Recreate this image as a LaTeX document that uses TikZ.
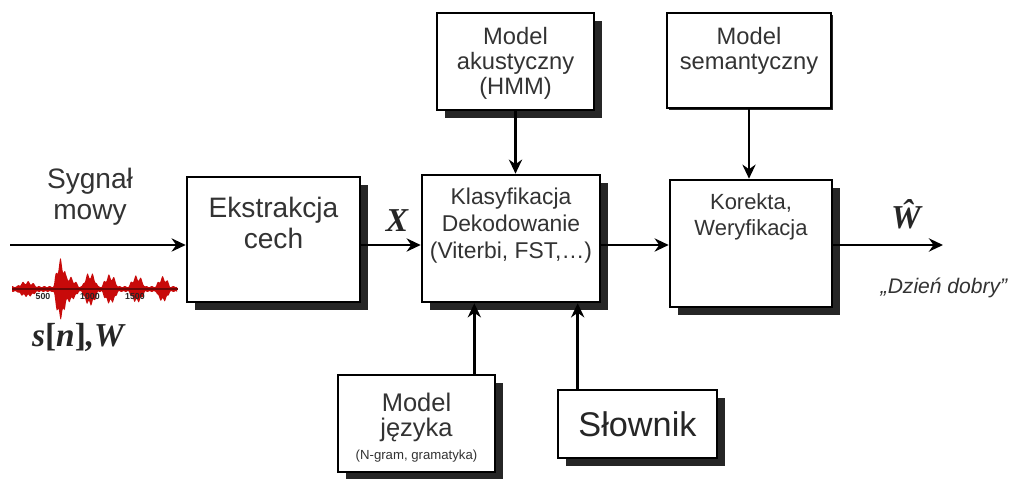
\documentclass[tikz,border=0pt]{standalone}
\usepackage{fontspec}
\setmainfont{Liberation Sans}
\newfontfamily\tms{Liberation Serif}
\usetikzlibrary{arrows.meta, shadows, positioning}
\definecolor{wavered}{RGB}{200,10,10}
\tikzstyle{block} = [rectangle, draw=black, line width=1.5pt, fill=white, drop shadow={shadow xshift=4.5pt, shadow yshift=-4.5pt, fill=black!85, opacity=1}]
\tikzstyle{flatblock} = [rectangle, draw=black, line width=1.5pt, fill=white, drop shadow={shadow xshift=1.2pt, shadow yshift=-1.2pt, fill=black!85, opacity=1}]
\tikzstyle{boxtext} = [align=center, inner sep=0pt, text=black!80]
\tikzstyle{symb} = [font=\tms\bfseries\itshape\fontsize{19}{19}\selectfont, text=black!85]
\tikzstyle{arrow} = [line width=1.4pt,-{Stealth[length=8pt,width=7.5pt]}]
\tikzset{declare function={bmp(\xp,\cp,\wp)=max(0,1-((\xp-\cp)/\wp)*((\xp-\cp)/\wp));
  env(\xp)=3+5*bmp(\xp,27,10)+19*bmp(\xp,60,6)+11*bmp(\xp,66,13)+14*bmp(\xp,90,8)+12*bmp(\xp,110,8)+11*bmp(\xp,137,8)+10*bmp(\xp,163,7);}}

\begin{document}
\begin{tikzpicture}[x=0.02cm, y=-0.02cm]
  \fill[white] (0,0) rectangle (1014,479);
  \useasboundingbox (0,0) rectangle (1014,479);

  % boxes of the main chain
  \node (ekst) [block, minimum width=3.46cm, minimum height=2.5cm] at (273.5,239.5) {};
  \node (klas) [block, minimum width=3.56cm, minimum height=2.54cm] at (511,238.5) {};
  \node (kor) [block, minimum width=3.24cm, minimum height=2.54cm] at (751,243.5) {};
  \node (ekstt) [boxtext, below=12pt of ekst.north, font=\fontsize{16}{17.5}\selectfont] {Ekstrakcja\\cech};
  \node (klast) [boxtext, below=8pt of klas.north, font=\fontsize{13}{15.3}\selectfont] {Klasyfikacja\\Dekodowanie\\(Viterbi, FST,…)};
  \node (kort) [boxtext, below=8pt of kor.north, font=\fontsize{12.5}{15.3}\selectfont] {Korekta,\\Weryfikacja};

  % models
  \node (akus) [block, minimum width=3.14cm, minimum height=1.94cm] at (515.5,61.5) {};
  \node (sem) [flatblock, minimum width=3.28cm, minimum height=1.9cm] at (749,60.5) {};
  \node (jez) [block, minimum width=3.14cm, minimum height=1.94cm] at (416.5,423.5) {};
  \node (slow) [block, minimum width=3.18cm, minimum height=1.36cm, font=\fontsize{19.5}{20}\selectfont, text=black!85] at (637.5,424) {Słownik};
  \node (akust) [boxtext, below=8.5pt of akus.north, font=\fontsize{13.5}{14.2}\selectfont] {Model\\akustyczny\\(HMM)};
  \node (semt) [boxtext, below=8.5pt of sem.north, font=\fontsize{13.5}{14.2}\selectfont] {Model\\semantyczny};
  \node (jezt) [boxtext, below=11pt of jez.north, font=\fontsize{14.5}{14.2}\selectfont] {Model\\języka\\[-1pt]{\fontsize{7.5}{8}\selectfont (N-gram, gramatyka)}};

  % input signal
  \node (sygnal) [boxtext, font=\fontsize{16}{17.5}\selectfont] at (90,197) {Sygnał\\mowy};
  \fill[wavered] plot[domain=12:177, samples=240, smooth] (\x,{289-env(\x)*(0.8+0.2*sin(\x*67))})
    -- plot[domain=177:12, samples=240, smooth] (\x,{289+env(\x)*(0.85+0.15*cos(\x*83))}) -- cycle;
  \draw[wavered!55!black, line width=0.8pt] (12,289) -- (178,289);
  \node (tick1) [font=\bfseries\fontsize{5}{5}\selectfont, text=black!85] at (43,296) {500};
  \node (tick2) [font=\bfseries\fontsize{5}{5}\selectfont, text=black!85] at (90,296) {1000};
  \node (tick3) [font=\bfseries\fontsize{5}{5}\selectfont, text=black!85] at (135,296) {1500};
  \node (sig) [symb] at (78,338) {s\textup{[}n\textup{]},W};

  % labels on the chain
  \node (xlab) [symb] at (397,221) {X};
  \node (what) [symb] at (906,214) {\^W};
  \node (dzien) [font=\itshape\fontsize{12}{12}\selectfont, text=black!80] at (944,288) {„Dzień dobry”};

  \coordinate (in) at (10,245);
  \coordinate (out) at (943,245);
  \coordinate (jezup) at ([xshift=-0.44cm]jez.north east);
  \coordinate (slowup) at ([xshift=0.42cm]slow.north west);

  \draw [arrow] (in) -- (in -| ekst.west);
  \draw [arrow] (ekst.east |- in) -- (klas.west |- in);
  \draw [arrow] (klas.east |- in) -- (kor.west |- in);
  \draw [arrow] (kor.east |- in) -- (out);
  \draw [arrow] (akus.south) -- (akus.south |- klas.north);
  \draw [arrow] (sem.south) -- (sem.south |- kor.north);
  \draw [arrow] (jezup) -- (jezup |- klas.south);
  \draw [arrow] (slowup) -- (slowup |- klas.south);
\end{tikzpicture}
\end{document}
